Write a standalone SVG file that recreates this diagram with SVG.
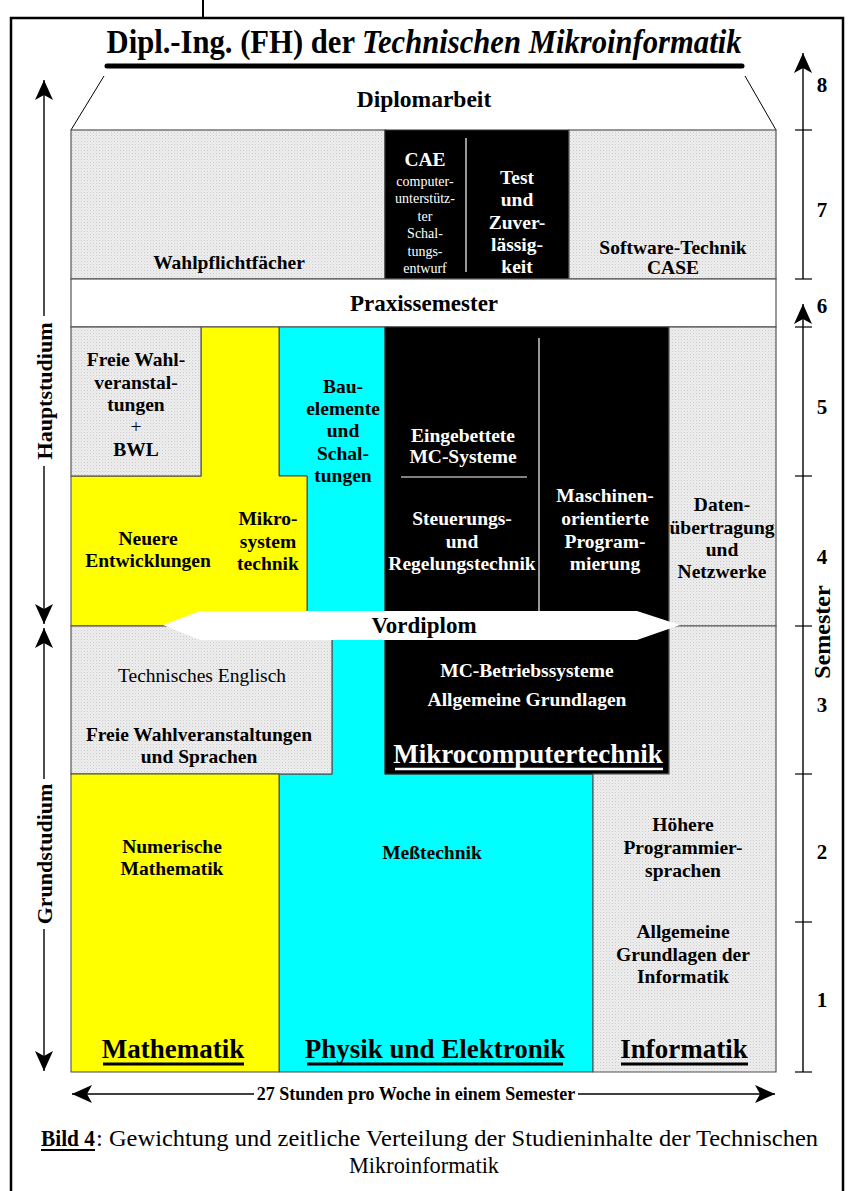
<svg xmlns="http://www.w3.org/2000/svg" width="849" height="1191" viewBox="0 0 849 1191">
<defs>
<pattern id="dots" width="3" height="3" patternUnits="userSpaceOnUse">
<rect width="3" height="3" fill="#efefef"/>
<rect width="1" height="1" fill="#c8c8c8"/>
<rect x="1.5" y="1.5" width="1" height="1" fill="#d6d6d6"/>
</pattern>
<marker id="ah" viewBox="0 0 20 20" refX="20" refY="10" markerWidth="20" markerHeight="20" markerUnits="userSpaceOnUse" orient="auto-start-reverse">
<path d="M0,1 L20,10 L0,19 L5,10 Z" fill="#000"/>
</marker>
<style>
text{font-family:"Liberation Serif","Times New Roman",serif;font-weight:bold;text-anchor:middle;fill:#000}
.w{fill:#fff}
.r{font-weight:normal}
.s16{font-size:19.5px}
.s13{font-size:14px;font-weight:normal}
.big{font-size:27px}
.g{fill:url(#dots);stroke:#555;stroke-width:1.2}
.y{fill:#ffff00;stroke:#444;stroke-width:1}
.c{fill:#00ffff;stroke:#444;stroke-width:1}
.k{fill:#000;stroke:#333;stroke-width:1}
.ax{stroke:#000;stroke-width:1.4;fill:none}
.tk{stroke:#000;stroke-width:1.2}
.ul{stroke:#000;stroke-width:3}
</style>
</defs>
<g id="frame">
<path d="M11,1191 V18 H843 V1191" fill="none" stroke="#000" stroke-width="2.5"/>
<line x1="203" y1="0" x2="203" y2="18" stroke="#000" stroke-width="2"/>
</g>
<g id="title">
<text x="424" y="53" font-size="33" textLength="635" lengthAdjust="spacingAndGlyphs">Dipl.-Ing. (FH) der <tspan font-style="italic">Technischen Mikroinformatik</tspan></text>
<line x1="107" y1="66" x2="742" y2="66" stroke="#000" stroke-width="5" stroke-linecap="round"/>
</g>
<g id="diplomarbeit">
<line x1="104" y1="76" x2="71" y2="130" stroke="#000" stroke-width="1"/>
<line x1="745" y1="76" x2="776" y2="130" stroke="#000" stroke-width="1"/>
<text x="424" y="107" font-size="23.5">Diplomarbeit</text>
</g>
<g id="wahlpflicht">
<rect class="g" x="71" y="130" width="314" height="149"/>
<text class="s16" x="229" y="269">Wahlpflichtfächer</text>
</g>
<g id="cae-test">
<rect class="k" x="385" y="130" width="184" height="149"/>
<line x1="466" y1="138" x2="466" y2="272" stroke="#fff" stroke-width="1.2"/>
<text class="w" x="425" y="166" font-size="19.5">CAE</text>
<text class="w s13" x="425" y="186">computer-</text>
<text class="w s13" x="425" y="203">unterstütz-</text>
<text class="w s13" x="425" y="221">ter</text>
<text class="w s13" x="425" y="238">Schal-</text>
<text class="w s13" x="425" y="256">tungs-</text>
<text class="w s13" x="425" y="273">entwurf</text>
<text class="w s16" x="517" y="184">Test</text>
<text class="w s16" x="517" y="206">und</text>
<text class="w s16" x="517" y="229">Zuver-</text>
<text class="w s16" x="517" y="251">lässig-</text>
<text class="w s16" x="517" y="273">keit</text>
</g>
<g id="software">
<rect class="g" x="569" y="130" width="207" height="149"/>
<text class="s16" x="673" y="254">Software-Technik</text>
<text class="s16" x="673" y="274">CASE</text>
</g>
<g id="praxis">
<rect x="71" y="279" width="705" height="48" fill="#fff" stroke="#555" stroke-width="1.2"/>
<text x="424" y="311" font-size="23">Praxissemester</text>
</g>
<g id="cyan-area">
<polygon class="c" points="279,327 385,327 385,774 593,774 593,1072 279,1072 279,774 332,774 332,626 307,626 307,476 279,476"/>
</g>
<g id="yellow-area">
<polygon class="y" points="201,327 279,327 279,476 307,476 307,626 71,626 71,476 201,476"/>
</g>
<g id="freie-bwl">
<rect class="g" x="71" y="327" width="130" height="149"/>
<text class="s16" x="136" y="366">Freie Wahl-</text>
<text class="s16" x="136" y="389">veranstal-</text>
<text class="s16" x="136" y="411">tungen</text>
<text class="s16 r" x="136" y="433">+</text>
<text class="s16" x="136" y="456">BWL</text>
</g>
<g id="bauelemente">
<text class="s16" x="343" y="393">Bau-</text>
<text class="s16" x="343" y="415">elemente</text>
<text class="s16" x="343" y="437">und</text>
<text class="s16" x="343" y="460">Schal-</text>
<text class="s16" x="343" y="482">tungen</text>
</g>
<g id="neuere">
<text class="s16" x="148" y="545">Neuere</text>
<text class="s16" x="148" y="567">Entwicklungen</text>
<text class="s16" x="268" y="525">Mikro-</text>
<text class="s16" x="268" y="548">system</text>
<text class="s16" x="268" y="570">technik</text>
</g>
<g id="mikrocomputer">
<rect class="k" x="385" y="327" width="284" height="447"/>
<line x1="539" y1="338" x2="539" y2="626" stroke="#fff" stroke-width="1.2"/>
<line x1="401" y1="477" x2="527" y2="477" stroke="#fff" stroke-width="1.2"/>
<text class="w s16" x="463" y="442">Eingebettete</text>
<text class="w s16" x="463" y="463">MC-Systeme</text>
<text class="w s16" x="462" y="525">Steuerungs-</text>
<text class="w s16" x="462" y="548">und</text>
<text class="w s16" x="462" y="570">Regelungstechnik</text>
<text class="w s16" x="605" y="502">Maschinen-</text>
<text class="w s16" x="605" y="525">orientierte</text>
<text class="w s16" x="605" y="548">Program-</text>
<text class="w s16" x="605" y="570">mierung</text>
<text class="w s16" x="527" y="677">MC-Betriebssysteme</text>
<text class="w s16" x="527" y="706">Allgemeine Grundlagen</text>
<text class="w big" x="528" y="763">Mikrocomputertechnik</text>
<line x1="395" y1="769" x2="663" y2="769" stroke="#fff" stroke-width="2.5"/>
</g>
<g id="daten">
<rect class="g" x="669" y="327" width="107" height="299"/>
<text class="s16" x="722" y="511">Daten-</text>
<text class="s16" x="722" y="534">übertragung</text>
<text class="s16" x="722" y="556">und</text>
<text class="s16" x="722" y="578">Netzwerke</text>
</g>
<g id="englisch">
<rect class="g" x="71" y="626" width="261" height="148"/>
<text class="s16 r" x="202" y="682">Technisches Englisch</text>
<text class="s16" x="199" y="741">Freie Wahlveranstaltungen</text>
<text class="s16" x="199" y="763">und Sprachen</text>
</g>
<g id="informatik">
<polygon class="g" points="669,626 776,626 776,1072 593,1072 593,774 669,774"/>
<text class="s16" x="683" y="831">Höhere</text>
<text class="s16" x="683" y="854">Programmier-</text>
<text class="s16" x="683" y="877">sprachen</text>
<text class="s16" x="683" y="938">Allgemeine</text>
<text class="s16" x="683" y="961">Grundlagen der</text>
<text class="s16" x="683" y="983">Informatik</text>
<text class="big" x="684" y="1058">Informatik</text>
<line class="ul" x1="621" y1="1064" x2="748" y2="1064"/>
</g>
<g id="mathematik">
<rect class="y" x="71" y="774" width="208" height="298"/>
<text class="s16" x="172" y="853">Numerische</text>
<text class="s16" x="172" y="875">Mathematik</text>
<text class="big" x="173" y="1058">Mathematik</text>
<line class="ul" x1="103" y1="1064" x2="244" y2="1064"/>
</g>
<g id="physik">
<text class="s16" x="432" y="859">Meßtechnik</text>
<text class="big" x="435" y="1058">Physik und Elektronik</text>
<line class="ul" x1="307" y1="1064" x2="563" y2="1064"/>
</g>
<g id="vordiplom">
<polygon points="163,625 200,611 637,611 680,625 637,640 200,640" fill="#fff"/>
<text x="424" y="633" font-size="23">Vordiplom</text>
</g>
<g id="connectors">
<line class="ax" x1="44" y1="80" x2="44" y2="624" marker-start="url(#ah)" marker-end="url(#ah)"/>
<line class="ax" x1="44" y1="628" x2="44" y2="1071" marker-start="url(#ah)" marker-end="url(#ah)"/>
<line class="ax" x1="803" y1="53" x2="803" y2="279" marker-start="url(#ah)"/>
<line class="ax" x1="803" y1="304" x2="803" y2="1072" marker-start="url(#ah)"/>
<line class="tk" x1="795" y1="130" x2="812" y2="130"/>
<line class="tk" x1="795" y1="279" x2="812" y2="279"/>
<line class="tk" x1="795" y1="327" x2="812" y2="327"/>
<line class="tk" x1="795" y1="476" x2="812" y2="476"/>
<line class="tk" x1="795" y1="626" x2="812" y2="626"/>
<line class="tk" x1="795" y1="774" x2="812" y2="774"/>
<line class="tk" x1="795" y1="922" x2="812" y2="922"/>
<line class="tk" x1="795" y1="1072" x2="812" y2="1072"/>
<line class="ax" x1="72" y1="1094" x2="775" y2="1094" marker-start="url(#ah)" marker-end="url(#ah)"/>
</g>
<g id="axis-labels">
<rect x="33" y="316" width="22" height="150" fill="#fff"/>
<text font-size="22" transform="translate(52,391) rotate(-90)">Hauptstudium</text>
<rect x="33" y="779" width="22" height="150" fill="#fff"/>
<text font-size="22" transform="translate(52,854) rotate(-90)">Grundstudium</text>
<rect x="254" y="1085" width="324" height="18" fill="#fff"/>
<text font-size="18" x="416" y="1100">27 Stunden pro Woche in einem Semester</text>
<text font-size="21" x="822" y="92">8</text>
<text font-size="21" x="822" y="217">7</text>
<text font-size="21" x="822" y="313">6</text>
<text font-size="21" x="822" y="414">5</text>
<text font-size="21" x="822" y="564">4</text>
<text font-size="21" x="822" y="712">3</text>
<text font-size="21" x="822" y="859">2</text>
<text font-size="21" x="822" y="1007">1</text>
<text font-size="24" transform="translate(830,632) rotate(-90)">Semester</text>
</g>
<g id="caption">
<text x="41" y="1146" font-size="24" style="text-anchor:start" textLength="54" lengthAdjust="spacingAndGlyphs">Bild 4</text>
<line x1="41" y1="1150" x2="95" y2="1150" stroke="#000" stroke-width="2"/>
<text x="96" y="1146" font-size="24" class="r" style="text-anchor:start" textLength="722" lengthAdjust="spacingAndGlyphs">: Gewichtung und zeitliche Verteilung der Studieninhalte der Technischen</text>
<text x="424" y="1173" font-size="24" class="r" textLength="150" lengthAdjust="spacingAndGlyphs">Mikroinformatik</text>
</g>
</svg>
